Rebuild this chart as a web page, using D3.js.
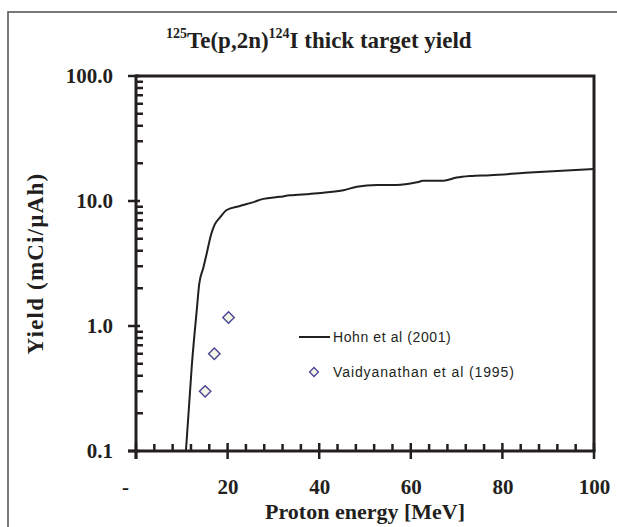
<!DOCTYPE html>
<html>
<head>
<meta charset="utf-8">
<script src="https://cdn.jsdelivr.net/npm/d3@7"></script>
<style>
  html, body { margin: 0; padding: 0; background: #fff; }
  svg { display: block; }
</style>
</head>
<body>
<svg id="chart" width="617" height="527"></svg>
<script>
// ---- data ----
const hohnEnergy = [10.9, 12.2, 13.25, 13.8, 14.7, 15.4, 16.4, 17.2, 18.3, 19.8, 22.7, 25.3, 27.8, 31.4, 33.6, 38, 40.9, 45.3, 48.2, 52.6, 56.9, 61.3, 62.7, 67.1, 70, 72.9, 77.3, 85, 92, 100];
const hohnYield  = [0.1, 0.49, 1.32, 2.16, 2.93, 3.75, 5.4, 6.5, 7.35, 8.47, 9.12, 9.7, 10.4, 10.8, 11.1, 11.4, 11.65, 12.2, 13.0, 13.4, 13.4, 14.1, 14.5, 14.5, 15.4, 15.85, 16.1, 16.8, 17.4, 18.0];
const vaidEnergy = [15.1, 17.1, 20.2];
const vaidYield  = [0.30, 0.60, 1.17];
const xTicks = [0, 20, 40, 60, 80, 100];
const xTickLabels = ["-", "20", "40", "60", "80", "100"];
const xMinorTicks = [4, 8, 12, 16, 24, 28, 32, 36, 44, 48, 52, 56, 64, 68, 72, 76, 84, 88, 92, 96];
const yTicks = [0.1, 1, 10, 100];
const yTickLabels = ["0.1", "1.0", "10.0", "100.0"];
const yMinorTicks = [0.2, 0.3, 0.4, 0.5, 0.6, 0.7, 0.8, 0.9, 2, 3, 4, 5, 6, 7, 8, 9, 20, 30, 40, 50, 60, 70, 80, 90];
const seriesNames = ["Hohn et al (2001)", "Vaidyanathan et al (1995)"];

// ---- layout ----
const svg = d3.select("#chart");
const L = 136, R = 594, T = 76, B = 451;
const x = d3.scaleLinear().domain([0, 100]).range([L, R]);
const y = d3.scaleLog().domain([0.1, 100]).range([B, T]);
const ink = "#231f20";
const serif = "'Liberation Serif', 'Times New Roman', serif";
const sans = "'Liberation Sans', Arial, sans-serif";

// outer frame (extends past right/bottom edges)
svg.append("rect").attr("x", 8).attr("y", 12).attr("width", 640).attr("height", 560)
  .attr("fill", "none").attr("stroke", "#4d4d4d").attr("stroke-width", 1.5);

// title
const title = svg.append("text").attr("x", 166).attr("y", 48)
  .attr("font-family", serif).attr("font-weight", "bold").attr("fill", ink).attr("font-size", 23);
title.append("tspan").attr("font-size", 14).attr("dy", -10).text("125");
title.append("tspan").attr("dy", 10).text("Te(p,2n)");
title.append("tspan").attr("font-size", 14).attr("dy", -10).text("124");
title.append("tspan").attr("dy", 10).text("I thick target yield");

// plot border (top & right)
svg.append("path").attr("d", `M${L},${T}H${R}V${B}`).attr("fill", "none")
  .attr("stroke", ink).attr("stroke-width", 3);

// tick marks built from the scales
function tickPath(vals, scale, fn) { return vals.map(v => fn(scale(v))).join(""); }
svg.append("path").attr("fill", "none").attr("stroke", ink).attr("stroke-width", 2.5)
  .attr("d", tickPath(xMinorTicks, x, px => `M${px},${B}V${B - 7}`)
           + tickPath(xTicks, x, px => `M${px},${B - 8}V${B + 8}`)
           + tickPath(yMinorTicks, y, py => `M${L},${py}H${L + 7}`)
           + tickPath(yTicks, y, py => `M${L - 8},${py}H${L + 4}`));

function styleAxis(g) {
  g.select(".domain").remove();
  g.selectAll(".tick line").remove();
  g.selectAll(".tick text").attr("font-family", serif).attr("font-weight", "bold")
    .attr("font-size", 21).attr("fill", ink);
}

// x axis labels
const gx = svg.append("g").attr("transform", `translate(0,${B})`)
  .call(d3.axisBottom(x).tickValues(xTicks).tickSize(0).tickPadding(28)
    .tickFormat((d, i) => xTickLabels[i]))
  .call(styleAxis);
gx.selectAll(".tick text").filter((d, i) => i === 0).attr("x", -11);

// y axis labels
svg.append("g").attr("transform", `translate(${L},0)`)
  .call(d3.axisLeft(y).tickValues(yTicks).tickSize(0).tickPadding(23)
    .tickFormat((d, i) => yTickLabels[i]))
  .call(styleAxis);

// axis lines
svg.append("line").attr("x1", L - 8).attr("x2", R + 1.5).attr("y1", B).attr("y2", B)
  .attr("stroke", ink).attr("stroke-width", 3);
svg.append("line").attr("x1", L).attr("x2", L).attr("y1", T - 1.5).attr("y2", B + 8)
  .attr("stroke", ink).attr("stroke-width", 3);

// axis titles
svg.append("text").attr("x", (L + R) / 2).attr("y", 519).attr("text-anchor", "middle")
  .attr("font-family", serif).attr("font-weight", "bold").attr("font-size", 22).attr("fill", ink)
  .text("Proton energy [MeV]");
svg.append("text").attr("transform", `translate(43,${(T + B) / 2}) rotate(-90)`)
  .attr("text-anchor", "middle").attr("font-family", serif).attr("font-weight", "bold")
  .attr("font-size", 23).attr("letter-spacing", 1.2).attr("fill", ink)
  .text("Yield (mCi/µAh)");

// Hohn curve
const line = d3.line().x((d, i) => x(hohnEnergy[i])).y((d, i) => y(hohnYield[i]))
  .curve(d3.curveMonotoneX);
svg.append("path").datum(hohnEnergy).attr("d", line).attr("fill", "none")
  .attr("stroke", ink).attr("stroke-width", 2).attr("stroke-linejoin", "round");

// Vaidyanathan points
const diamond = d3.symbol().type(d3.symbolSquare).size(65);
svg.selectAll(".vp").data(vaidEnergy).join("path").attr("class", "vp")
  .attr("d", diamond())
  .attr("transform", (d, i) => `translate(${x(d)},${y(vaidYield[i])}) rotate(45)`)
  .attr("fill", "#f3f5e3").attr("stroke", "#4a4698").attr("stroke-width", 1.4);

// legend
const lg = svg.append("g");
lg.append("line").attr("x1", 299).attr("x2", 330).attr("y1", 337).attr("y2", 337)
  .attr("stroke", ink).attr("stroke-width", 2);
lg.append("text").attr("x", 333).attr("y", 342).attr("font-family", sans)
  .attr("font-size", 14).attr("letter-spacing", 0.6).attr("fill", ink).text(seriesNames[0]);
lg.append("path").attr("d", d3.symbol().type(d3.symbolSquare).size(40)())
  .attr("transform", "translate(314,372) rotate(45)")
  .attr("fill", "#f3f5e3").attr("stroke", "#4a4698").attr("stroke-width", 1.3);
lg.append("text").attr("x", 333).attr("y", 377).attr("font-family", sans)
  .attr("font-size", 14).attr("letter-spacing", 0.9).attr("fill", ink).text(seriesNames[1]);
</script>
</body>
</html>
